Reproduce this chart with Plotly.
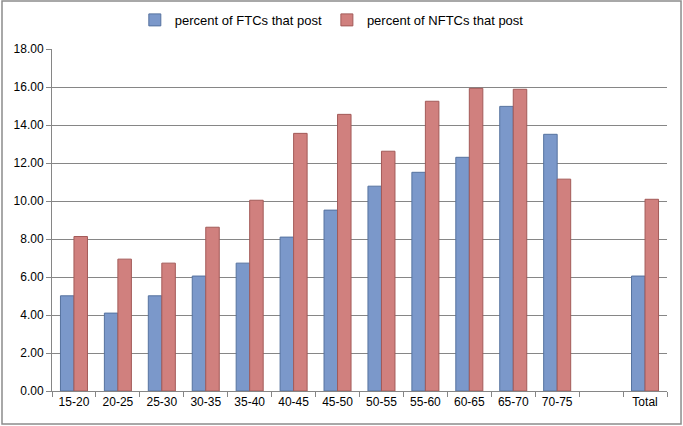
import plotly.graph_objects as go

categories = ["15-20", "20-25", "25-30", "30-35", "35-40", "40-45", "45-50",
              "50-55", "55-60", "60-65", "65-70", "70-75", " ", "Total"]
ftc_values = [5.01, 4.10, 5.01, 6.05, 6.73, 8.10, 9.52, 10.78, 11.51, 12.30,
              14.98, 13.51, None, 6.05]
nftc_values = [8.13, 6.94, 6.73, 8.62, 10.04, 13.56, 14.56, 12.62, 15.25, 15.93,
               15.88, 11.15, None, 10.09]
series_names = ["percent of FTCs that post", "percent of NFTCs that post"]
y_ticks = [0, 2, 4, 6, 8, 10, 12, 14, 16, 18]

FONT = "Liberation Sans"

fig = go.Figure()
fig.add_trace(go.Bar(
    x=categories, y=ftc_values, name=series_names[0],
    marker=dict(color="#7B98CA", line=dict(color="#56729F", width=1)),
))
fig.add_trace(go.Bar(
    x=categories, y=nftc_values, name=series_names[1],
    marker=dict(color="#D0807E", line=dict(color="#A35A58", width=1)),
))

fig.update_layout(
    width=683, height=426,
    margin=dict(l=52, r=16, t=49, b=35, autoexpand=False),
    paper_bgcolor="white", plot_bgcolor="white",
    barmode="group", bargap=0.385, bargroupgap=0,
    font=dict(family=FONT, size=12, color="#000000"),
    legend=dict(orientation="h", x=0.455, xanchor="center", y=1.085, yanchor="middle",
                font=dict(family=FONT, size=13), itemwidth=30,
                traceorder="normal"),
    showlegend=True,
    xaxis=dict(
        type="category", categoryorder="array", categoryarray=categories,
        showline=True, linecolor="#868686", linewidth=1,
        ticks="outside", tickson="boundaries", ticklen=5, tickcolor="#868686",
        showgrid=False, tickfont=dict(size=12),
    ),
    yaxis=dict(
        range=[0, 18], tickvals=y_ticks, tickformat=".2f",
        showline=True, linecolor="#868686", linewidth=1,
        ticks="outside", ticklen=5, tickcolor="#868686",
        showgrid=True, gridcolor="#868686", gridwidth=1,
        tickfont=dict(size=12), zeroline=False,
    ),
    shapes=[dict(
        type="rect", xref="paper", yref="paper",
        x0=-0.0813, x1=1.0228, y0=-0.0965, y1=1.1403,
        line=dict(color="#8C8C8C", width=1.5), fillcolor="rgba(0,0,0,0)", layer="above",
    )],
)

fig.write_html(
    "out.html",
    config={"displayModeBar": False},
    post_script="document.body.style.margin='0';document.body.style.overflow='hidden';",
)
